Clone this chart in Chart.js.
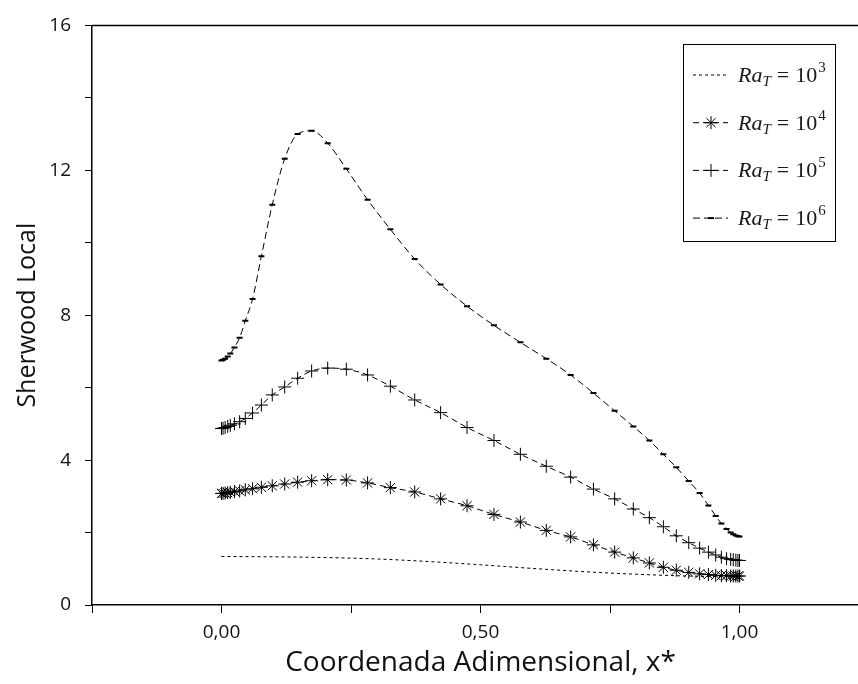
<!DOCTYPE html>
<html lang="pt">
<head>
    <meta charset="UTF-8">
    <title>Sherwood Local</title>
    <script src="https://cdn.jsdelivr.net/npm/chart.js"></script>
    <style>
        html, body { margin: 0; padding: 0; background: #fff; overflow: hidden; }
        .chart-box { width: 900px; height: 684px; }
    </style>
</head>
<body>
    <div class="chart-box"><canvas id="shChart"></canvas></div>

    <script>
        const xGrid = [0, 0.003, 0.007, 0.012, 0.017, 0.025, 0.035, 0.046, 0.060, 0.077,
                       0.098, 0.122, 0.147, 0.174, 0.205, 0.241, 0.282, 0.326, 0.373, 0.423,
                       0.474, 0.526, 0.577, 0.627, 0.674, 0.718, 0.759, 0.795, 0.826, 0.853,
                       0.878, 0.902, 0.923, 0.940, 0.954, 0.965, 0.975, 0.983, 0.988, 0.993,
                       0.997, 1.0];

        const sh4 = [3.08, 3.08, 3.09, 3.10, 3.11, 3.13, 3.15, 3.18, 3.21, 3.25,
                     3.29, 3.34, 3.39, 3.43, 3.46, 3.45, 3.37, 3.24, 3.12, 2.93,
                     2.74, 2.50, 2.29, 2.06, 1.88, 1.66, 1.46, 1.30, 1.16, 1.04,
                     0.96, 0.90, 0.86, 0.84, 0.82, 0.81, 0.81, 0.80, 0.80, 0.80,
                     0.80, 0.80];

        const sh5 = [4.87, 4.88, 4.90, 4.93, 4.96, 5.00, 5.06, 5.15, 5.30, 5.52,
                     5.80, 6.02, 6.26, 6.46, 6.54, 6.51, 6.35, 6.04, 5.66, 5.31,
                     4.90, 4.54, 4.16, 3.83, 3.53, 3.20, 2.93, 2.65, 2.41, 2.16,
                     1.91, 1.72, 1.57, 1.46, 1.38, 1.32, 1.28, 1.26, 1.25, 1.24,
                     1.23, 1.23];

        const sh6 = [6.75, 6.77, 6.80, 6.86, 6.94, 7.11, 7.38, 7.85, 8.45, 9.63,
                     11.05, 12.32, 13.00, 13.09, 12.75, 12.04, 11.19, 10.37, 9.55, 8.85,
                     8.25, 7.72, 7.25, 6.80, 6.35, 5.85, 5.36, 4.93, 4.54, 4.16,
                     3.80, 3.42, 3.09, 2.75, 2.46, 2.25, 2.10, 2.00, 1.95, 1.92,
                     1.90, 1.89];

        // Ra = 10^3 (só linha tracejada)
        const x3 = [0, 0.1, 0.2, 0.3, 0.4, 0.5, 0.6, 0.7, 0.8, 0.9, 1.0];
        const sh3 = [1.34, 1.33, 1.31, 1.27, 1.20, 1.11, 1.01, 0.92, 0.85, 0.80, 0.78];

        const raExponents = ["3", "4", "5", "6"];
        const xTickValues = [0, 0.5, 1];
        const xTickLabels = ["0,00", "0,50", "1,00"];
        const yTickLabels = [0, 4, 8, 12, 16];

        const toPoints = (xs, ys) => xs.map((x, i) => ({ x: x, y: ys[i] }));

        const seriesStyle = [
            { dash: [3, 3], pointStyle: false, radius: 0, pointWidth: 1 },
            { dash: [6, 4], pointStyle: "star", radius: 6.5, pointWidth: 1 },
            { dash: [6, 4], pointStyle: "cross", radius: 6.5, pointWidth: 1 },
            { dash: [7, 4], pointStyle: "line", radius: 3, pointWidth: 2 }
        ];

        const seriesData = [toPoints(x3, sh3), toPoints(xGrid, sh4), toPoints(xGrid, sh5), toPoints(xGrid, sh6)];

        const datasets = seriesData.map((pts, i) => ({
            label: "Ra_T = 10^" + raExponents[i],
            data: pts,
            borderColor: "#000",
            backgroundColor: "#000",
            borderWidth: 1,
            borderDash: seriesStyle[i].dash,
            pointStyle: seriesStyle[i].pointStyle,
            pointRadius: seriesStyle[i].radius,
            pointBorderWidth: seriesStyle[i].pointWidth,
            pointBorderColor: "#000",
            pointBackgroundColor: "#000",
            cubicInterpolationMode: "monotone",
            fill: false
        }));

        // legenda desenhada à mão (Ra com subscrito e potência)
        const raLegend = {
            id: "raLegend",
            afterDraw(chart) {
                const ctx = chart.ctx;
                const a = chart.chartArea;
                ctx.save();

                // limpa a faixa da borda direita da janela
                ctx.fillStyle = "#fff";
                ctx.fillRect(852, a.top + 1, 10, a.bottom - a.top - 2);

                ctx.beginPath();
                ctx.strokeStyle = "#000";
                ctx.lineWidth = 1;
                ctx.setLineDash([]);
                ctx.strokeRect(683.5, 44.5, 152, 197);

                seriesStyle.forEach((st, i) => {
                    const y = 75 + i * 47.7;
                    ctx.strokeStyle = "#000";
                    ctx.lineWidth = 1;
                    ctx.setLineDash(st.dash);
                    ctx.beginPath();
                    ctx.moveTo(693, y);
                    ctx.lineTo(728, y);
                    ctx.stroke();
                    ctx.setLineDash([]);
                    if (st.pointStyle) {
                        ctx.fillStyle = "#000";
                        ctx.lineWidth = st.pointWidth;
                        Chart.helpers.drawPoint(ctx, {
                            pointStyle: st.pointStyle, radius: st.radius,
                            borderWidth: st.pointWidth, rotation: 0
                        }, 711, y);
                    }

                    let x = 738;
                    ctx.fillStyle = "#1a1a1a";
                    ctx.textBaseline = "alphabetic";
                    ctx.textAlign = "left";
                    ctx.font = 'italic 22px "Liberation Serif"';
                    ctx.fillText("Ra", x, y + 7);
                    x += ctx.measureText("Ra").width;
                    ctx.font = 'italic 15px "Liberation Serif"';
                    ctx.fillText("T", x, y + 11);
                    x += ctx.measureText("T").width + 6;
                    ctx.font = '22px "Liberation Serif"';
                    ctx.fillText("=", x, y + 7);
                    x += ctx.measureText("=").width + 6;
                    ctx.fillText("10", x, y + 7);
                    x += ctx.measureText("10").width + 1;
                    ctx.font = '15px "Liberation Serif"';
                    ctx.fillText(raExponents[i], x, y - 3);
                });

                // moldura superior da área do gráfico
                ctx.strokeStyle = "#000";
                ctx.lineWidth = 1.5;
                ctx.beginPath();
                ctx.moveTo(a.left, a.top);
                ctx.lineTo(a.right, a.top);
                ctx.stroke();
                ctx.restore();
            }
        };

        const tickFont = { family: "'Open Sans'", size: 19 };

        new Chart(document.getElementById("shChart"), {
            type: "line",
            data: { datasets: datasets },
            options: {
                responsive: true,
                maintainAspectRatio: false,
                animation: false,
                // a área do gráfico passa da margem direita da janela (até x* = 1,25)
                layout: { padding: { top: 21, right: 31, left: 0, bottom: 0 } },
                plugins: { legend: { display: false }, tooltip: { enabled: false } },
                scales: {
                    x: {
                        type: "linear",
                        min: -0.25,
                        max: 1.25,
                        afterFit: s => { s.height = 79; },
                        border: { color: "#000", width: 1.5 },
                        grid: { drawOnChartArea: false, tickLength: 8, color: "#000" },
                        ticks: {
                            stepSize: 0.25,
                            color: "#111",
                            font: tickFont,
                            padding: 8,
                            maxRotation: 0,
                            autoSkip: false,
                            callback: v => {
                                const k = xTickValues.findIndex(t => Math.abs(t - v) < 1e-6);
                                return k >= 0 ? xTickLabels[k] : "";
                            }
                        },
                        title: {
                            display: true,
                            text: "Coordenada Adimensional, x*",
                            color: "#111",
                            font: { family: "'Open Sans'", size: 28 },
                            padding: { bottom: 4, top: 0 }
                        }
                    },
                    y: {
                        min: 0,
                        max: 16,
                        afterFit: s => { s.width = 92; },
                        border: { color: "#000", width: 1.5 },
                        grid: { drawOnChartArea: false, tickLength: 7, color: "#000" },
                        ticks: {
                            stepSize: 2,
                            color: "#111",
                            font: tickFont,
                            padding: 14,
                            autoSkip: false,
                            callback: v => yTickLabels.includes(v) ? String(v) : ""
                        },
                        title: {
                            display: true,
                            text: "Sherwood Local",
                            color: "#111",
                            font: { family: "'Open Sans'", size: 25 },
                            padding: { top: 13, bottom: 0 }
                        }
                    }
                }
            },
            plugins: [raLegend]
        });
    </script>
</body>
</html>
